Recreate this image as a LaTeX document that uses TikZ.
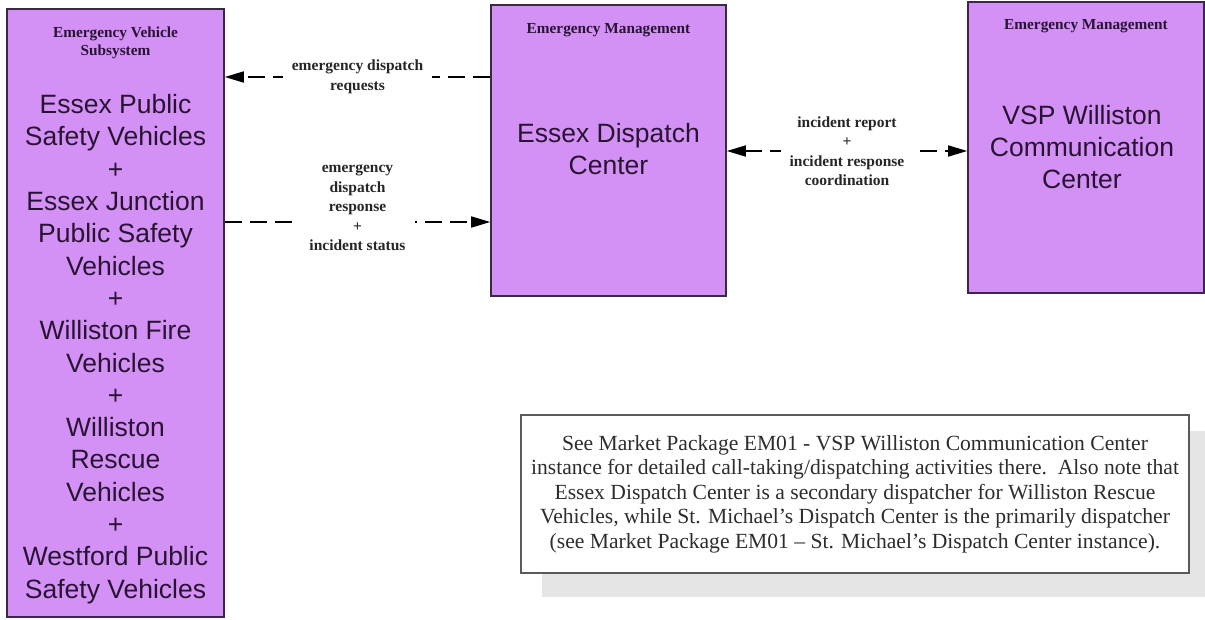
\documentclass[tikz,border=0pt]{standalone}
\usepackage{fontspec}
\setmainfont{Liberation Serif}
\newfontfamily\arialf{Liberation Sans}
\usetikzlibrary{arrows.meta,backgrounds}
\definecolor{boxfill}{RGB}{211,145,245}
\definecolor{boxline}{RGB}{60,40,70}
\definecolor{boxtext}{RGB}{40,20,50}
\definecolor{shadowgray}{RGB}{229,229,229}
\definecolor{notetext}{RGB}{45,45,45}
\definecolor{notebord}{RGB}{90,90,90}
\begin{document}
\begin{tikzpicture}[x=1pt,y=-1pt,
  sysbox/.style={draw=boxline, line width=1.6pt, fill=boxfill, inner sep=0pt},
  titletext/.style={font=\fontsize{15.3}{18}\selectfont\bfseries, text=boxtext, align=center, inner sep=0pt},
  bodytext/.style={font=\arialf\fontsize{26.5}{32.3}\selectfont, text=boxtext, align=center, inner sep=0pt},
  flow/.style={line width=1.6pt, dash pattern=on 17pt off 8pt, -{Triangle[length=19pt,width=11pt]}},
  flowboth/.style={line width=1.6pt, dash pattern=on 17pt off 8pt, {Triangle[length=19pt,width=11pt]}-{Triangle[length=19pt,width=11pt]}},
  flowlabel/.style={font=\fontsize{15.5}{19.5}\selectfont\bfseries, fill=white, align=center, inner xsep=9pt, inner ysep=1pt, text=black!85},
  notebox/.style={draw=notebord, line width=1.5pt, fill=white, align=center, text=notetext, font=\fontsize{21.6}{24.5}\selectfont, inner sep=0pt}
]
\useasboundingbox (0,0) rectangle (1205,619);

% system boxes
\node[sysbox, minimum width=217pt, minimum height=608pt] (evs) at (115.5,313) {};
\node[sysbox, minimum width=235pt, minimum height=291pt] (edc) at (608.5,150.5) {};
\node[sysbox, minimum width=236pt, minimum height=291pt] (vsp) at (1086,147.5) {};

% titles
\node[titletext] (evsT) at (115.5,43) {Emergency Vehicle\\Subsystem};
\node[titletext] (edcT) at (608.5,30) {Emergency Management};
\node[titletext] (vspT) at (1086,26) {Emergency Management};

% body texts
\node[bodytext] (evsB) at (115.5,349) {Essex Public\\Safety Vehicles\\+\\Essex Junction\\Public Safety\\Vehicles\\+\\Williston Fire\\Vehicles\\+\\Williston\\Rescue\\Vehicles\\+\\Westford Public\\Safety Vehicles};
\node[bodytext] (edcB) at (608.5,149) {Essex Dispatch\\Center};
\node[bodytext] (vspB) at (1082,147) {VSP Williston\\Communication\\Center};

% flow rows
\coordinate (r1) at (0,77);
\coordinate (r2) at (0,222);
\coordinate (r3) at (0,151);

\draw[flow] (edc.west |- r1) -- node[flowlabel] (f1) {emergency dispatch\\requests} (evs.east |- r1);
\draw[flow] (evs.east |- r2) -- node[flowlabel, yshift=14pt] (f2) {emergency\\dispatch\\response\\+\\incident status} (edc.west |- r2);
\draw[flowboth] (edc.east |- r3) -- node[flowlabel] (f3) {incident report\\+\\incident response\\coordination} (vsp.west |- r3);

% note
\node[notebox, minimum width=668pt, minimum height=158pt] (note) at (855,494) {See Market Package EM01 - VSP Williston Communication Center\\instance for detailed call-taking/dispatching activities there.\ \ Also note that\\Essex Dispatch Center is a secondary dispatcher for Williston Rescue\\Vehicles, while St. Michael’s Dispatch Center is the primarily dispatcher\\(see Market Package EM01 – St. Michael’s Dispatch Center instance).};

\begin{scope}[on background layer]
  \fill[white] (0,0) rectangle (1205,619);
  \fill[shadowgray] ([shift={(22,17)}]note.north west) rectangle ([shift={(22,23)}]note.south east);
\end{scope}
\end{tikzpicture}
\end{document}
